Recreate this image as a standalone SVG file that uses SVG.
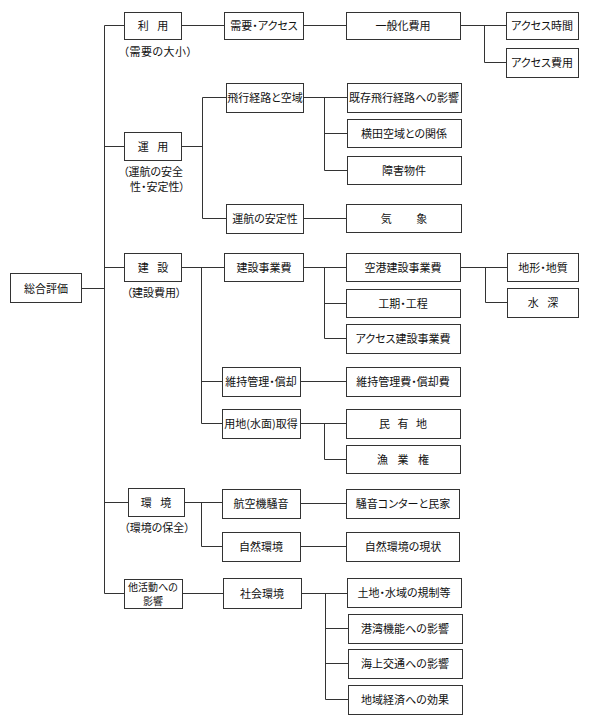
<svg xmlns="http://www.w3.org/2000/svg" width="589" height="724" viewBox="0 0 589 724">
<style>
rect{fill:#fff;stroke:#333;stroke-width:1}
text{font-family:"Noto Sans CJK JP","Noto Sans",sans-serif;font-size:11px;fill:#111;text-anchor:middle;font-feature-settings:"palt"}
.l{text-anchor:start}
.s{font-size:10px}
.c path{fill:none;stroke:#333;stroke-width:1}
</style>
<rect width="589" height="724" style="fill:#fff;stroke:none"/>
<g class="c" id="connectors">
<path d="M104.5 25.5V593.5M82 288.5H104.5M104.5 25.5H124M104.5 146.5H124M104.5 267.5H124M104.5 502.5H128M104.5 593.5H124"/>
<path d="M182 25.5H224M303 25.5H346M460 25.5H506M484.5 25.5V62.5H506"/>
<path d="M182 146.5H203M202.5 97.5V218.5M202.5 97.5H226M202.5 218.5H226M303 97.5H347M324.5 97.5V170.5H347M324.5 133.5H347M303 218.5H346"/>
<path d="M182 267.5H224M201.5 267.5V423.5M201.5 381.5H222M201.5 423.5H222M303 267.5H346M324.5 267.5V338.5H346M324.5 303.5H346M460 267.5H507M485.5 267.5V302.5H507M300 381.5H346M300 423.5H346M324.5 423.5V459.5H346"/>
<path d="M184 502.5H222M201.5 502.5V546.5H222M300 503.5H346M300 546.5H346"/>
<path d="M182 593.5H223M302 593.5H347M325.5 593.5V699.5H348M325.5 628.5H348M325.5 663.5H348"/>
</g>
<g id="n0"><rect x="10.5" y="273.5" width="71" height="29"/><text x="46" y="292.5">総合評価</text></g>
<g id="n1"><rect x="124.5" y="12.5" width="57" height="27"/><text x="153" y="30" word-spacing="6">利 用</text><text x="158" y="56" letter-spacing="0.5">（需要の大小）</text></g>
<g id="n2"><rect x="124.5" y="132.5" width="57" height="28"/><text x="153" y="150.5" word-spacing="6">運 用</text><text class="l" x="123" y="176">（運航の安全</text><text class="l" x="130" y="191">性・安定性）</text></g>
<g id="n3"><rect x="124.5" y="253.5" width="57" height="28"/><text x="153" y="271.5" word-spacing="6">建 設</text><text x="154" y="297">（建設費用）</text></g>
<g id="n4"><rect x="128.5" y="488.5" width="56" height="28"/><text x="156" y="506.5" word-spacing="6">環 境</text><text x="157" y="532">（環境の保全）</text></g>
<g id="n5"><rect x="124.5" y="579.5" width="58" height="29"/><text class="s" x="153" y="590.5">他活動への</text><text class="s" x="153" y="605">影響</text></g>
<g id="n6"><rect x="224.5" y="12.5" width="79" height="27"/><text x="264" y="30">需要・アクセス</text></g>
<g id="n7"><rect x="226.5" y="83.5" width="77" height="29"/><text x="265" y="102">飛行経路と空域</text></g>
<g id="n8"><rect x="226.5" y="204.5" width="77" height="29"/><text x="265" y="223">運航の安定性</text></g>
<g id="n9"><rect x="224.5" y="253.5" width="79" height="28"/><text x="264" y="271.5">建設事業費</text></g>
<g id="n10"><rect x="222.5" y="367.5" width="78" height="29"/><text x="261" y="386">維持管理・償却</text></g>
<g id="n11"><rect x="222.5" y="409.5" width="78" height="29"/><text x="261" y="428">用地(水面)取得</text></g>
<g id="n12"><rect x="222.5" y="489.5" width="78" height="29"/><text x="261" y="508">航空機騒音</text></g>
<g id="n13"><rect x="222.5" y="532.5" width="78" height="29"/><text x="261" y="551">自然環境</text></g>
<g id="n14"><rect x="223.5" y="578.5" width="78" height="30"/><text x="262" y="597.5">社会環境</text></g>
<g id="n15"><rect x="346.5" y="12.5" width="114" height="27"/><text x="403" y="30">一般化費用</text></g>
<g id="n16"><rect x="347.5" y="83.5" width="114" height="29"/><text x="404" y="102">既存飛行経路への影響</text></g>
<g id="n17"><rect x="347.5" y="119.5" width="114" height="28"/><text x="404" y="137.5">横田空域との関係</text></g>
<g id="n18"><rect x="347.5" y="156.5" width="114" height="28"/><text x="404" y="174.5">障害物件</text></g>
<g id="n19"><rect x="346.5" y="204.5" width="115" height="28"/><text x="404" y="222.5" word-spacing="22">気 象</text></g>
<g id="n20"><rect x="346.5" y="253.5" width="114" height="28"/><text x="403" y="271.5">空港建設事業費</text></g>
<g id="n21"><rect x="346.5" y="289.5" width="114" height="28"/><text x="403" y="307.5">工期・工程</text></g>
<g id="n22"><rect x="346.5" y="324.5" width="114" height="29"/><text x="403" y="343">アクセス建設事業費</text></g>
<g id="n23"><rect x="346.5" y="367.5" width="114" height="29"/><text x="403" y="386">維持管理費・償却費</text></g>
<g id="n24"><rect x="346.5" y="409.5" width="114" height="29"/><text x="403" y="428" word-spacing="5">民 有 地</text></g>
<g id="n25"><rect x="346.5" y="445.5" width="114" height="28"/><text x="403" y="463.5" word-spacing="7">漁 業 権</text></g>
<g id="n26"><rect x="346.5" y="489.5" width="113" height="29"/><text x="403" y="508">騒音コンターと民家</text></g>
<g id="n27"><rect x="346.5" y="532.5" width="113" height="29"/><text x="403" y="551">自然環境の現状</text></g>
<g id="n28"><rect x="347.5" y="578.5" width="114" height="29"/><text x="404" y="597">土地・水域の規制等</text></g>
<g id="n29"><rect x="348.5" y="614.5" width="114" height="29"/><text x="405" y="633">港湾機能への影響</text></g>
<g id="n30"><rect x="348.5" y="649.5" width="114" height="29"/><text x="405" y="668">海上交通への影響</text></g>
<g id="n31"><rect x="348.5" y="685.5" width="114" height="29"/><text x="405" y="704">地域経済への効果</text></g>
<g id="n32"><rect x="506.5" y="12.5" width="72" height="27"/><text x="542" y="30">アクセス時間</text></g>
<g id="n33"><rect x="506.5" y="48.5" width="72" height="29"/><text x="542" y="67">アクセス費用</text></g>
<g id="n34"><rect x="507.5" y="253.5" width="71" height="28"/><text x="543" y="271.5">地形・地質</text></g>
<g id="n35"><rect x="507.5" y="288.5" width="71" height="29"/><text x="543" y="307" word-spacing="6">水 深</text></g>
</svg>
